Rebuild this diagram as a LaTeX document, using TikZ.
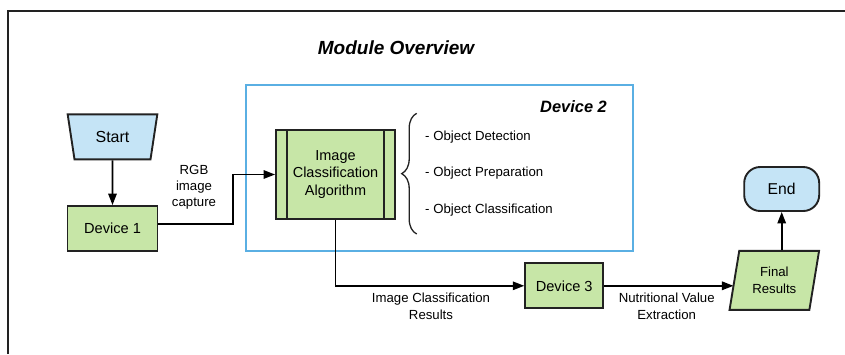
\documentclass[tikz,border=0pt]{standalone}
\usepackage{fontspec}
\setmainfont{Liberation Sans}
\usepackage{xcolor}
\usetikzlibrary{shapes.geometric, arrows.meta, decorations.pathreplacing, calc}

\definecolor{boxgreen}{HTML}{C7E6A7}
\definecolor{boxblue}{HTML}{C5E4F6}
\definecolor{lineblue}{HTML}{5AAFE3}
\definecolor{edgegray}{HTML}{222222}

\begin{document}
\begin{tikzpicture}[x=1pt, y=-1pt,
  devbox/.style={rectangle, draw=edgegray, line width=1.9pt, fill=boxgreen, minimum height=45pt, inner sep=0pt, font=\fontsize{14.6}{17}\selectfont},
  procbox/.style={rectangle, draw=edgegray, line width=1.9pt, fill=boxgreen, minimum width=119pt, minimum height=89pt, inner sep=0pt, align=center, font=\fontsize{14.5}{17.5}\selectfont},
  termstart/.style={trapezium, trapezium stretches=true, shape border rotate=180, trapezium left angle=75, trapezium right angle=75, minimum width=90pt, minimum height=45pt, inner sep=0pt, draw=edgegray, line width=1.9pt, fill=boxblue, font=\fontsize{16}{19}\selectfont},
  termend/.style={rectangle, rounded corners=16pt, minimum width=75pt, minimum height=44pt, inner sep=0pt, draw=edgegray, line width=1.9pt, fill=boxblue, font=\fontsize{15.7}{19}\selectfont},
  iobox/.style={trapezium, trapezium stretches=true, trapezium left angle=77, trapezium right angle=103, minimum width=90pt, minimum height=59pt, inner sep=0pt, draw=edgegray, line width=1.9pt, fill=boxgreen, align=center, font=\fontsize{13.2}{16.7}\selectfont},
  lbl/.style={align=center, inner sep=0pt, font=\fontsize{13.2}{16.2}\selectfont},
  item/.style={anchor=west, inner sep=0pt, font=\fontsize{13.2}{16}\selectfont},
  arr/.style={-{Triangle[length=11.5pt, width=8.5pt]}, line width=1.6pt, black}
]
  \useasboundingbox (0,0) rectangle (845,354);

  % Outer frame
  \draw[line width=2.2pt, edgegray] (8,354) -- (8,11) -- (845,11);

  % Title
  \node[font=\fontsize{19}{22}\selectfont\bfseries\itshape] (title) at (396,48) {Module Overview};

  % Device 2 container
  \node[draw=lineblue, line width=1.9pt, minimum width=387pt, minimum height=166pt, inner sep=0pt] (dev2) at (439.6,168) {};
  \node[anchor=east, inner sep=0pt, font=\fontsize{16.4}{19}\selectfont\bfseries\itshape] (dev2name) at (607,106.7) {Device 2};

  % Flow nodes
  \node[termstart] (start) at (112.5,136.8) {Start};
  \node[devbox, minimum width=90pt] (dev1) at (112.5,228.5) {Device 1};
  \node[procbox] (algo) at (335.5,174.5) {Image\\Classification\\Algorithm};
  \node[devbox, minimum width=78pt] (dev3) at (564.2,285.8) {Device 3};
  \node[iobox] (res) at (774.3,280.4) {Final\\Results};
  \node[termend] (tend) at (781.7,189) {End};

  % Side bars of the process box
  \draw[edgegray, line width=1.9pt] ($(algo.north west)+(12.3,0)$) -- ($(algo.south west)+(12.3,0)$);
  \draw[edgegray, line width=1.9pt] ($(algo.north east)+(-12.3,0)$) -- ($(algo.south east)+(-12.3,0)$);

  % Steps of the algorithm
  \coordinate (braceB) at (416.7,234);
  \coordinate (braceT) at (416.7,113.3);
  \draw[edgegray, line width=1.3pt, decorate, decoration={brace, amplitude=15pt}] (braceB) -- (braceT);
  \node[item] (det) at (425,136.7) {- Object Detection};
  \node[item] (prep) at (425,173.3) {- Object Preparation};
  \node[item] (cls) at (425,210) {- Object Classification};

  % Connectors
  \draw[arr] (start.south) -- (dev1.north);
  \draw[arr] ([yshift=4.7pt]dev1.east) -- ++(74.5,0) |- (algo.west);
  \draw[arr] (algo.south) |- (dev3.west);
  \draw[arr] (dev3.east) -- (dev3.east -| res.west);
  \draw[arr] (res.north -| tend.south) -- (tend.south);

  % Connector labels
  \node[lbl] (rgb) at (194,187.3) {RGB\\image\\capture};
  \node[lbl] (icr) at (431,306.3) {Image Classification\\Results};
  \node[lbl] (nve) at (666.7,306.3) {Nutritional Value\\Extraction};
\end{tikzpicture}
\end{document}
